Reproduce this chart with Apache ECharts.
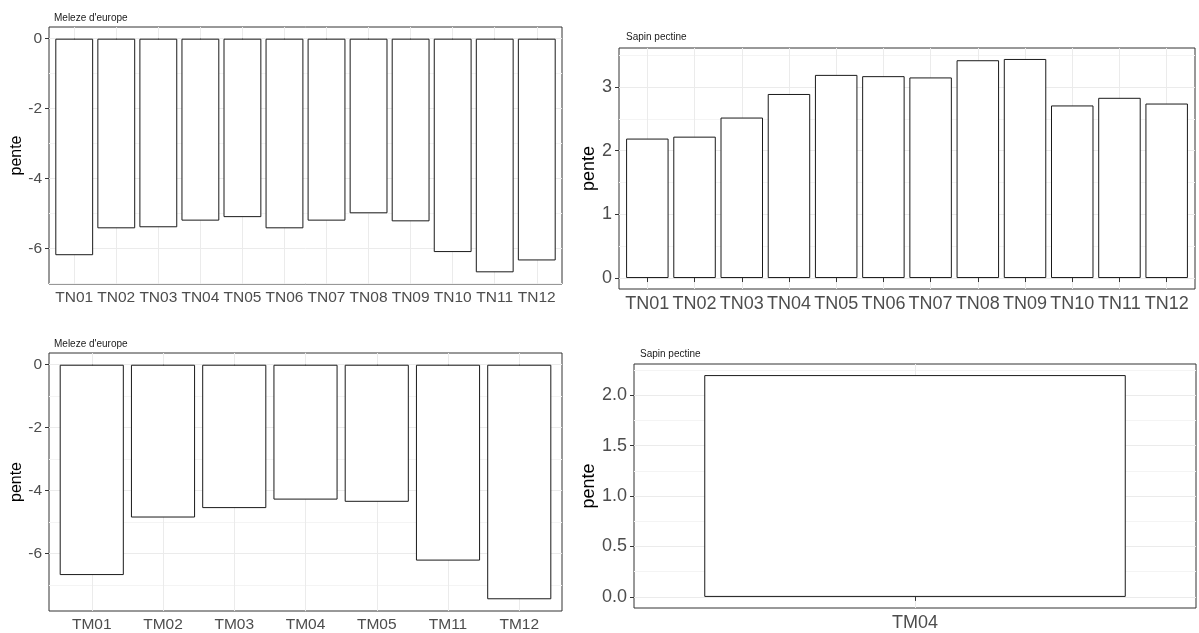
<!DOCTYPE html>
<html>
<head>
<meta charset="utf-8">
<script src="https://cdn.jsdelivr.net/npm/echarts@6/dist/echarts.min.js"></script>
<style>
  html, body { margin: 0; padding: 0; background: #fff; }
  #chart { width: 1199px; height: 633px; }
</style>
</head>
<body>
<div id="chart"></div>
<script>
// ---- data ----
const catsTN = ['TN01','TN02','TN03','TN04','TN05','TN06','TN07','TN08','TN09','TN10','TN11','TN12'];
const melezeTN = [-6.20, -5.43, -5.40, -5.21, -5.11, -5.43, -5.21, -5.00, -5.23, -6.11, -6.69, -6.35];
const sapinTN = [2.19, 2.22, 2.52, 2.89, 3.19, 3.17, 3.15, 3.42, 3.44, 2.71, 2.83, 2.74];
const catsTMmeleze = ['TM01','TM02','TM03','TM04','TM05','TM11','TM12'];
const melezeTM = [-6.69, -4.86, -4.56, -4.29, -4.36, -6.23, -7.46];
const catsTMsapin = ['TM04'];
const sapinTM = [2.20];

const titles = ["Meleze d'europe", 'Sapin pectine', "Meleze d'europe", 'Sapin pectine'];
const yTicks1 = [-6, -4, -2, 0];
const yMinor1 = [-7, -5, -3, -1];
const yTicks2 = [0, 1, 2, 3];
const yMinor2 = [0.5, 1.5, 2.5, 3.5];
const yTicks3 = [-6, -4, -2, 0];
const yMinor3 = [-7, -5, -3, -1];
const yTicks4 = [0, 0.5, 1, 1.5, 2];
const yMinor4 = [0.25, 0.75, 1.25, 1.75, 2.25];
const yDecimals = [0, 0, 0, 1];
const yName = 'pente';

// ---- layout / style ----
const FONT = "'Liberation Sans', Arial, sans-serif";
const panels = [
  { cats: catsTN, vals: melezeTN, ticks: yTicks1, minor: yMinor1, box: [49, 27, 562, 284], fs: 15.5, nfs: 16, nameGap: 20, title: [49, 8] },
  { cats: catsTN, vals: sapinTN, ticks: yTicks2, minor: yMinor2, box: [619, 48, 1195, 289], fs: 18, nfs: 18, nameGap: 12, title: [621, 27] },
  { cats: catsTMmeleze, vals: melezeTM, ticks: yTicks3, minor: yMinor3, box: [49, 353, 562, 611], fs: 15.5, nfs: 16, nameGap: 20, title: [49, 334] },
  { cats: catsTMsapin, vals: sapinTM, ticks: yTicks4, minor: yMinor4, box: [634, 364, 1196, 608], fs: 18, nfs: 18, nameGap: 27, title: [635, 344] }
];

const grid = [], xAxis = [], yAxis = [], series = [], title = [];
panels.forEach((p, i) => {
  const [l, t, r, b] = p.box;
  grid.push({
    left: l, top: t, width: r - l, height: b - t,
    show: true, borderColor: '#333', borderWidth: 1, backgroundColor: 'transparent',
    outerBoundsMode: 'none', containLabel: false
  });
  title.push({
    text: titles[i], left: p.title[0], top: p.title[1],
    textStyle: { fontFamily: FONT, fontSize: 10, fontWeight: 'normal', color: '#1a1a1a' }
  });
  const n = p.cats.length;
  const xMin = 0.4, xMax = n + 0.6;
  const pos = p.cats.map((c, k) => k + 1);
  xAxis.push({
    type: 'value', gridIndex: i, min: xMin, max: xMax,
    axisLine: { show: false },
    axisTick: { show: true, inside: false, length: 4, customValues: pos, lineStyle: { color: '#333', width: 1 } },
    axisLabel: { customValues: pos, margin: 6, fontFamily: FONT, fontSize: p.fs, color: '#4d4d4d',
      formatter: v => p.cats[Math.round(v) - 1] || '' },
    splitLine: { show: true, lineStyle: { color: '#ebebeb', width: 1 } }
  });
  let lo = Math.min(0, ...p.vals), hi = Math.max(0, ...p.vals);
  const pad = (hi - lo) * 0.05;
  lo -= pad; hi += pad;
  const dec = yDecimals[i];
  yAxis.push({
    type: 'value', gridIndex: i, min: lo, max: hi, position: 'left',
    name: yName, nameLocation: 'middle', nameGap: p.nameGap,
    nameTextStyle: { fontFamily: FONT, fontSize: p.nfs, color: '#000' },
    axisLine: { show: false },
    axisTick: { show: true, inside: false, length: 4, customValues: p.ticks, lineStyle: { color: '#333', width: 1 } },
    axisLabel: { customValues: p.ticks, margin: 7, fontFamily: FONT, fontSize: p.fs, color: '#4d4d4d',
      formatter: v => Number(v).toFixed(dec) },
    splitLine: { show: true, lineStyle: { color: '#ebebeb', width: 1 } }
  });
  yAxis.push({
    type: 'value', gridIndex: i, min: lo, max: hi, position: 'right',
    axisLine: { show: false },
    axisTick: { show: false, customValues: p.minor },
    axisLabel: { show: false, customValues: p.minor },
    splitLine: { show: true, lineStyle: { color: '#f4f4f4', width: 1 } }
  });
  const band = n > 1 ? 1 : (xMax - xMin);
  series.push({
    type: 'bar', xAxisIndex: i, yAxisIndex: 2 * i,
    data: p.vals.map((v, k) => [k + 1, v]),
    barWidth: (0.9 / band * 100) + '%',
    itemStyle: { color: '#ffffff', borderColor: '#1a1a1a', borderWidth: 1 },
    emphasis: { disabled: true },
    animation: false
  });
});

const chart = echarts.init(document.getElementById('chart'), null, { renderer: 'canvas' });
chart.setOption({
  animation: false,
  backgroundColor: '#ffffff',
  title, grid, xAxis, yAxis, series
});
</script>
</body>
</html>
